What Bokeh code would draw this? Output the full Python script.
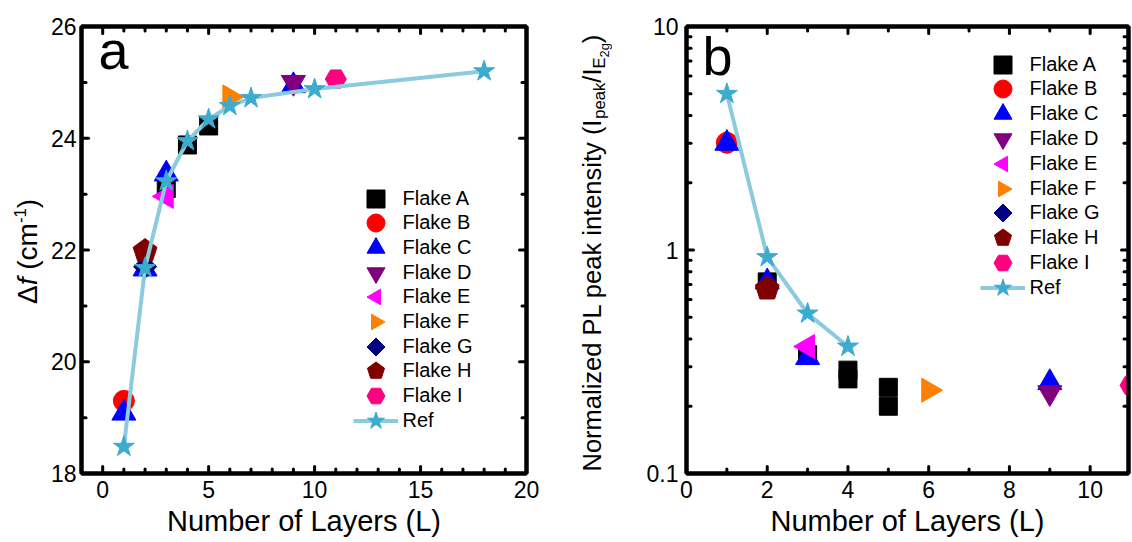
import math
from bokeh.plotting import figure
from bokeh.layouts import row
from bokeh.models import (Range1d, FixedTicker, LinearAxis, LogAxis, Label, Legend,
                          LegendItem, ColumnDataSource, CustomJSTickFormatter)
from bokeh.embed import file_html
from bokeh.resources import INLINE

FONT = "Liberation Sans"

# ---------------- data: panel a (Raman frequency difference) ----------------
flake_names = ["Flake A", "Flake B", "Flake C", "Flake D", "Flake E",
               "Flake F", "Flake G", "Flake H", "Flake I"]
a_A_x = [3, 4, 5];            a_A_y = [23.1, 23.88, 24.22]
a_B_x = [1];                  a_B_y = [19.3]
a_C_x = [1, 2, 3, 9];         a_C_y = [19.08, 21.66, 23.36, 24.94]
a_D_x = [9];                  a_D_y = [25.0]
a_E_x = [3];                  a_E_y = [22.96]
a_F_x = [6];                  a_F_y = [24.74]
a_G_x = [2];                  a_G_y = [21.7]
a_H_x = [2];                  a_H_y = [21.98]
a_I_x = [11];                 a_I_y = [25.06]
a_ref_x = [1, 2, 3, 4, 5, 6, 7, 10, 18]
a_ref_y = [18.48, 21.68, 23.23, 23.95, 24.34, 24.58, 24.72, 24.88, 25.2]

# ---------------- data: panel b (normalized PL peak intensity) ----------------
b_A_x = [2, 3, 4, 4, 5, 5];   b_A_y = [0.72, 0.34, 0.29, 0.265, 0.243, 0.2]
b_B_x = [1];                  b_B_y = [3.02]
b_C_x = [1, 2, 3, 9];         b_C_y = [3.0, 0.72, 0.33, 0.255]
b_D_x = [9];                  b_D_y = [0.23]
b_E_x = [3];                  b_E_y = [0.37]
b_F_x = [6];                  b_F_y = [0.236]
b_G_x = [2];                  b_G_y = [0.68]
b_H_x = [2];                  b_H_y = [0.67]
b_I_x = [11];                 b_I_y = [0.248]
b_ref_x = [1, 2, 3, 4];       b_ref_y = [5.0, 0.93, 0.52, 0.37]

a_series = [(a_A_x, a_A_y), (a_B_x, a_B_y), (a_C_x, a_C_y), (a_D_x, a_D_y), (a_E_x, a_E_y),
            (a_F_x, a_F_y), (a_G_x, a_G_y), (a_H_x, a_H_y), (a_I_x, a_I_y)]
b_series = [(b_A_x, b_A_y), (b_B_x, b_B_y), (b_C_x, b_C_y), (b_D_x, b_D_y), (b_E_x, b_E_y),
            (b_F_x, b_F_y), (b_G_x, b_G_y), (b_H_x, b_H_y), (b_I_x, b_I_y)]

# ---------------- styles ----------------
flake_colors = ["#000000", "#FF0000", "#0000FF", "#800080", "#FF00FF",
                "#FF8000", "#000080", "#800000", "#FF0080"]
# (kind, marker-or-sides, size-or-radius, angle)
flake_glyphs = [("scatter", "square", 18, 0), ("scatter", "circle", 21, 0),
                ("scatter", "triangle", 24, 0), ("scatter", "inverted_triangle", 24, 0),
                ("ngon", 3, 13.9, math.pi / 2), ("ngon", 3, 13.9, -math.pi / 2),
                ("ngon", 4, 11.5, 0), ("ngon", 5, 12.5, 0), ("scatter", "hex", 21, 0)]
REF_STAR = "#3DABCE"
REF_LINE = "#8ACBDF"

W = {" ": 278, "(": 333, ")": 333, "/": 278, "-": 333, "1": 556, "2": 556,
     "N": 722, "P": 667, "L": 556, "I": 278, "E": 667, "a": 556, "c": 500, "d": 556,
     "e": 556, "f": 278, "g": 556, "i": 222, "k": 500, "l": 222, "m": 833, "n": 556,
     "o": 556, "p": 556, "r": 333, "s": 500, "t": 278, "y": 500, "z": 500, "Δ": 668}


def twidth(s, fs):
    return sum(W.get(c, 556) for c in s) / 1000.0 * fs


def style_axis(ax, labels=True, standoff=6):
    ax.axis_line_width = 4
    ax.axis_line_color = "black"
    ax.major_tick_in = 0
    ax.major_tick_out = 0
    ax.minor_tick_in = 0
    ax.minor_tick_out = 0
    ax.major_tick_line_color = None
    ax.minor_tick_line_color = None
    ax.major_label_text_font = FONT
    ax.major_label_text_font_size = "23px"
    ax.major_label_text_color = "black"
    ax.major_label_standoff = standoff
    ax.axis_label_text_font = FONT
    ax.axis_label_text_font_size = "29px"
    ax.axis_label_text_font_style = "normal"
    ax.axis_label_text_color = "black"
    if not labels:
        ax.formatter = CustomJSTickFormatter(code="return ''")
        ax.major_label_standoff = 0


def flake_renderer(p, i, x, y):
    kind, m, s, ang = flake_glyphs[i]
    color = flake_colors[i]
    if kind == "scatter":
        return p.scatter(x, y, marker=m, size=s, angle=ang, fill_color=color, line_color=color)
    from bokeh.models import Ngon
    src = ColumnDataSource(dict(x=x, y=y))
    g = Ngon(x="x", y="y", radius=s, radius_units="screen", n=m, angle=ang,
             fill_color=color, line_color=color)
    return p.add_glyph(src, g)


def inner_ticks(p, xr, yr, xticks, xminor, yticks, yminor):
    # tick marks pointing into the frame on all four sides (half clipped by the frame)
    xmin_only = [v for v in xminor if v not in xticks]
    ymin_only = [v for v in yminor if v not in yticks]
    for vals, size in ((xticks, 14), (xmin_only, 9)):
        for edge in yr:
            p.scatter(vals, [edge] * len(vals), marker="dash", angle=math.pi / 2, size=size,
                      line_color="black", line_width=3, line_cap="round")
    for vals, size in ((yticks, 14), (ymin_only, 9)):
        for edge in xr:
            p.scatter([edge] * len(vals), vals, marker="dash", angle=0, size=size,
                      line_color="black", line_width=3, line_cap="round")


def make_panel(width, left, right, top, bottom, xr, yr, log, series, ref_x, ref_y,
               xticks, xminor, yticks, yminor, ylabel_std, leg_x, leg_y0, leg_step,
               letter, letter_xy):
    kw = dict(width=width, height=542, x_range=Range1d(*xr), y_range=Range1d(*yr),
              output_backend="svg", toolbar_location=None,
              min_border_left=left, min_border_right=right,
              min_border_top=top, min_border_bottom=bottom)
    if log:
        kw["y_axis_type"] = "log"
    p = figure(**kw)
    p.xgrid.visible = False
    p.ygrid.visible = False
    p.outline_line_color = "black"
    p.outline_line_width = 4
    p.background_fill_color = "white"
    p.border_fill_color = "white"

    p.xaxis.ticker = FixedTicker(ticks=xticks, minor_ticks=xminor)
    p.yaxis.ticker = FixedTicker(ticks=yticks, minor_ticks=yminor)
    style_axis(p.xaxis[0], True, 7)
    style_axis(p.yaxis[0], True, ylabel_std)
    p.xaxis.axis_label = "Number of Layers (L)"
    p.xaxis.axis_label_standoff = 4
    if log:
        p.yaxis.major_label_overrides = {0.1: "0.1", 1: "1", 10: "10"}
        rax = LogAxis(ticker=FixedTicker(ticks=yticks, minor_ticks=yminor))
    else:
        rax = LinearAxis(ticker=FixedTicker(ticks=yticks, minor_ticks=yminor))
    style_axis(rax, False)
    p.add_layout(rax, "right")
    tax = LinearAxis(ticker=FixedTicker(ticks=xticks, minor_ticks=xminor))
    style_axis(tax, False)
    p.add_layout(tax, "above")

    inner_ticks(p, xr, yr, xticks, xminor, yticks, yminor)

    items = []
    for i, (sx, sy) in enumerate(series):
        r = flake_renderer(p, i, sx, sy)
        items.append(LegendItem(label=flake_names[i], renderers=[r]))
    rl = p.line(ref_x, ref_y, line_color=REF_LINE, line_width=4)
    rs = p.scatter(ref_x, ref_y, marker="star", size=22, fill_color=REF_STAR,
                   line_color=REF_STAR)
    items.append(LegendItem(label="Ref", renderers=[rl, rs]))

    # one legend per entry, so that the 45px glyph boxes may overlap
    for i, it in enumerate(items):
        cy = leg_y0 + i * leg_step
        leg = Legend(items=[it], location=(leg_x, 473 - (cy + 22.5)), glyph_width=45,
                     glyph_height=45, spacing=0, padding=0, margin=0, label_standoff=5,
                     label_text_font=FONT, label_text_font_size="20px",
                     label_text_color="black", border_line_alpha=0,
                     background_fill_alpha=0)
        p.add_layout(leg)

    p.add_layout(Label(x=letter_xy[0], y=letter_xy[1], x_units="screen", y_units="screen",
                       text=letter, text_font=FONT, text_font_size="54px",
                       text_color="black", text_baseline="alphabetic"))
    return p


def label_strip(width, segs, base_x, start_y, base):
    """Vertical rich-text axis title drawn in a narrow figure whose frame
    spans rows 25..473 of the page (same borders as the panels)."""
    f = figure(width=width, height=542, x_range=Range1d(0, 1), y_range=Range1d(0, 1),
               output_backend="svg", toolbar_location=None, x_axis_location=None,
               y_axis_location=None, min_border_left=0, min_border_right=0,
               min_border_top=25, min_border_bottom=69)
    f.outline_line_color = None
    f.xgrid.visible = False
    f.ygrid.visible = False
    y = 473 - start_y
    for text, scale, shift, style in segs:
        fs = base * scale
        lead = len(text) - len(text.lstrip(" "))
        y += twidth(" " * lead, fs)
        body = text.strip(" ")
        f.add_layout(Label(x=base_x + shift * base - 0.35 * fs, y=y, x_units="screen",
                           y_units="screen", text=body, angle=math.pi / 2, text_font=FONT,
                           text_font_size=f"{fs:.1f}px", text_font_style=style,
                           text_color="black", text_baseline="middle",
                           text_align="left"))
        y += twidth(body, fs)
    return f


# ---------------- panel a ----------------
seg_a = [("Δ", 1, 0, "normal"), ("f", 1, 0, "italic"), (" (cm", 1, 0, "normal"),
         ("-1", 0.6, -0.4, "normal"), (")", 1, 0, "normal")]
la = label_strip(45, seg_a, 37, 303.5, 28)
pa = make_panel(515, 36, 34, 25, 69, (-1, 20), (18, 26), False, a_series, a_ref_x, a_ref_y,
                [0, 5, 10, 15, 20], list(range(-1, 21)),
                [18, 20, 22, 24, 26], list(range(18, 27)), 5,
                271.5, 198, 24.7, "a", (17, 424))

# ---------------- panel b ----------------
seg_b = [("Normalized PL peak intensity (I", 1, 0, "normal"), ("peak", 0.65, 0.2, "normal"),
         ("/I", 1, 0, "normal"), ("E", 0.65, 0.2, "normal"), ("2g", 0.5, 0.35, "normal"),
         (")", 1, 0, "normal")]
lb = label_strip(52, seg_b, 40, 471, 25.5)
minor_log = [v * 0.1 for v in range(2, 10)] + [float(v) for v in range(2, 10)]
pb = make_panel(520, 74, 4, 26, 69, (0, 10.95), (0.1, 10), True, b_series, b_ref_x, b_ref_y,
                [0, 2, 4, 6, 8, 10], list(range(0, 11)),
                [0.1, 1, 10], minor_log, 8,
                293.5, 64, 24.8, "b", (16, 418))

layout = row(la, pa, lb, pb)
open("out.html", "w").write(file_html(layout, INLINE))
